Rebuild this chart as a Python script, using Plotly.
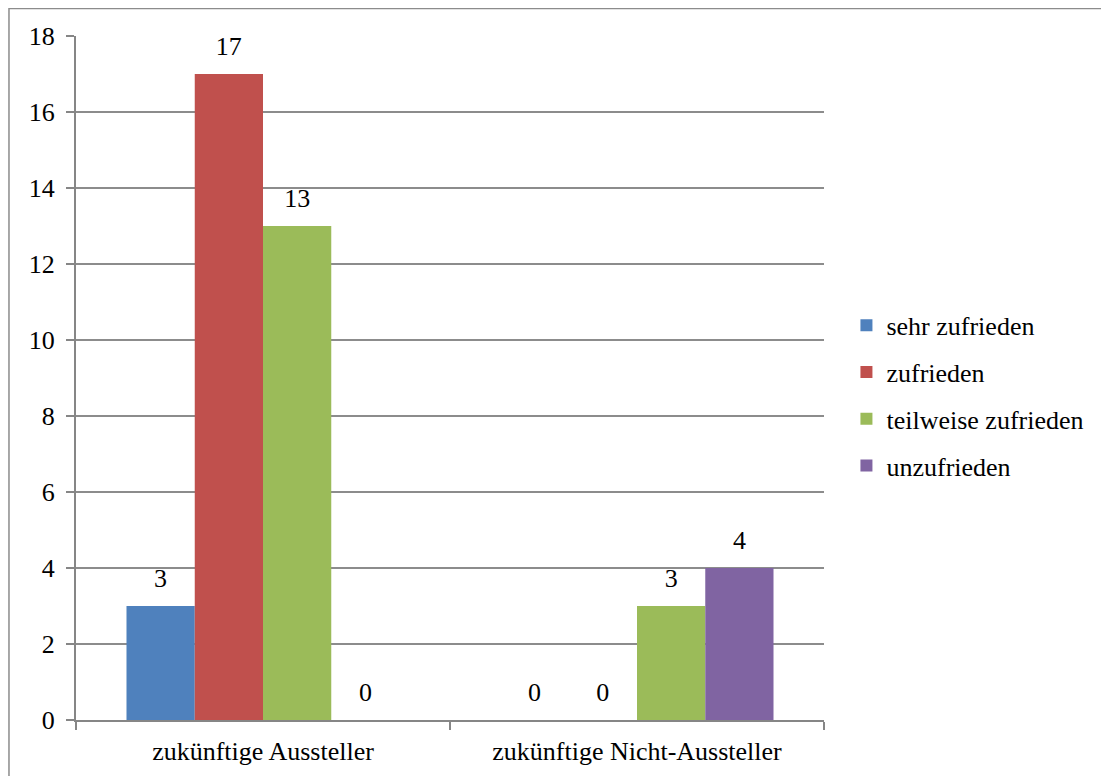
import plotly.graph_objects as go

# Kategorien und Werte
categories = ["zukünftige Aussteller", "zukünftige Nicht-Aussteller"]
series_names = ["sehr zufrieden", "zufrieden", "teilweise zufrieden", "unzufrieden"]
sehr_zufrieden = [3, 0]
zufrieden = [17, 0]
teilweise_zufrieden = [13, 3]
unzufrieden = [0, 4]
y_ticks = [0, 2, 4, 6, 8, 10, 12, 14, 16, 18]

series_values = [sehr_zufrieden, zufrieden, teilweise_zufrieden, unzufrieden]
colors = ["#4F81BD", "#C0504D", "#9BBB59", "#8064A2"]

font_family = "Liberation Serif, Times New Roman, serif"
fs = 26

fig = go.Figure()

for i, (name, vals) in enumerate(zip(series_names, series_values)):
    fig.add_trace(go.Bar(
        x=categories,
        y=vals,
        name=name,
        marker_color=colors[i],
        marker_line_width=0,
        legendgroup=name,
        offsetgroup=str(i),
    ))

# Datenbeschriftungen über den Balken
for i, (name, vals) in enumerate(zip(series_names, series_values)):
    fig.add_trace(go.Scatter(
        x=categories,
        y=vals,
        mode="markers+text",
        text=[str(v) for v in vals],
        textposition="top center",
        textfont=dict(family=font_family, size=fs, color="black"),
        marker=dict(size=18, opacity=0),
        showlegend=False,
        hoverinfo="skip",
        cliponaxis=False,
        offsetgroup=str(i),
    ))

# Rahmen um das gesamte Diagramm
fig.add_shape(type="rect", xref="paper", yref="paper",
              x0=-0.0896, x1=1.6, y0=-0.3, y1=1.0402,
              line=dict(color="#8c8c8c", width=1.5), layer="below")

fig.update_layout(
    width=1101,
    height=768,
    margin=dict(l=68, r=285, t=28, b=56),
    paper_bgcolor="white",
    plot_bgcolor="white",
    barmode="group",
    bargap=0.27,
    bargroupgap=0,
    scattermode="group",
    scattergap=0.27,
    font=dict(family=font_family, size=fs, color="black"),
    xaxis=dict(
        showline=True, linecolor="#868686", linewidth=2,
        ticks="outside", tickson="boundaries", ticklen=8,
        tickcolor="#868686", tickwidth=2,
        showgrid=False,
        tickfont=dict(family=font_family, size=fs),
        ticklabelstandoff=7,
        automargin=False,
    ),
    yaxis=dict(
        range=[0, 18],
        tickvals=y_ticks,
        showline=True, linecolor="#868686", linewidth=2,
        ticks="outside", ticklen=8, tickcolor="#868686", tickwidth=2,
        showgrid=True, gridcolor="#8c8c8c", gridwidth=1.5,
        zeroline=False,
        tickfont=dict(family=font_family, size=fs),
        ticklabelstandoff=6,
        automargin=False,
    ),
    legend=dict(
        x=1.03, y=0.474, xanchor="left", yanchor="middle",
        font=dict(family=font_family, size=fs),
        traceorder="grouped",
        tracegroupgap=10,
        itemwidth=30,
    ),
    showlegend=True,
)

fig.write_html("out.html")
